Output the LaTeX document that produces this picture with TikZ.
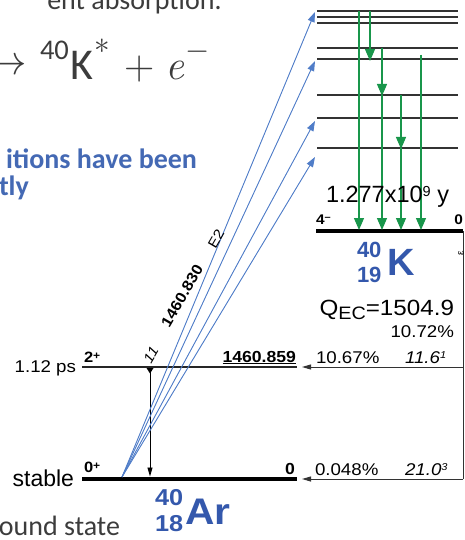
\documentclass[tikz,border=0pt]{standalone}
\usepackage{graphicx}
\usepackage{fontspec}
\newfontfamily\slidefont{Carlito}
\newfontfamily\hv{Liberation Sans}
\newfontfamily\hvw[FakeStretch=1.1]{Liberation Sans}
\usetikzlibrary{arrows.meta}
\definecolor{gammagreen}{RGB}{25,150,75}
\definecolor{absblue}{RGB}{80,125,200}
\definecolor{nucblue}{RGB}{52,88,172}
\definecolor{slideblue}{RGB}{68,105,180}
\definecolor{slidetext}{RGB}{60,60,60}
\newcommand\fsz[1]{\fontsize{#1}{#1}\selectfont}
\begin{document}
\begin{tikzpicture}[x=1pt,y=-1pt,
  txt/.style={inner sep=0pt, outer sep=0pt},
  lvl/.style={line width=1.5pt, draw=black!80},
  gnd/.style={line width=3.6pt, draw=black},
  garrow/.style={draw=gammagreen, line width=1.2pt, -{Triangle[width=10pt,length=12pt]}, fill=gammagreen},
  barrow/.style={draw=absblue, fill=absblue, line width=0.9pt, -{Triangle[width=7pt,length=10pt]}},
  karrow/.style={draw=black, line width=0.9pt, -{Triangle[width=5pt,length=9pt]}},
  ecline/.style={draw=black!80, line width=1pt},
  ecarrow/.style={draw=black!80, line width=1pt, -{Triangle[width=5pt,length=9pt]}},
]
\useasboundingbox (0,0) rectangle (465,540);
\clip (0,0) rectangle (465,540);

% ---------- slide text ----------
\node[txt, anchor=base east, text=slidetext] (title) at (222,10) {\slidefont\fsz{28}ent absorption:};
\node[txt, anchor=base east, text=slidetext] (eqarr) at (27,75) {\scalebox{2}{\fsz{21}$\to$}};
\node[txt, anchor=base west, text=slidetext] (eqA) at (40,60) {\slidefont\fsz{28.5}40};
\node[txt, anchor=base west, text=slidetext] (eqK) at (70,79.5) {\slidefont\fsz{44}K};
\node[txt, text=slidetext] (eqst) at (102,46) {\scalebox{1.5}{\fsz{20}$\ast$}};
\node[txt, anchor=base, text=slidetext] (eqplus) at (140,80) {\fsz{42}+};
\node[txt, anchor=base west, text=slidetext] (eqe) at (165,80) {\itshape\fsz{42}e};
\node[txt, text=slidetext] (eqm) at (198,52) {\scalebox{1.5}{\fsz{20}$-$}};
\node[txt, anchor=base east, text=slideblue] (bl1) at (197,168) {\slidefont\bfseries\fsz{28}itions have been};
\node[txt, anchor=base west, text=slideblue] (bl2) at (-1,195) {\slidefont\bfseries\fsz{28}tly};
\node[txt, anchor=base east, text=slidetext] (gs) at (120,535) {\slidefont\fsz{28}ound state};

% ---------- 40K levels ----------
\foreach \n/\yy in {a/11, b/17, c/23, d/48, e/59, f/95, g/118, h/148} {
  \coordinate (L\n) at (317,\yy);
  \coordinate (R\n) at (458,\yy);
  \draw[lvl] (L\n) -- (R\n);
}
\coordinate (kgL) at (316,231);
\coordinate (kgR) at (463,231);
\draw[gnd] (kgL) -- (kgR);

% ---------- 40Ar levels ----------
\coordinate (a2L) at (82,367);
\coordinate (a2R) at (297,367);
\draw[line width=1.3pt, draw=black!85] (a2L) -- (a2R);
\coordinate (a0L) at (82,478.5);
\coordinate (a0R) at (297,478.5);
\draw[line width=4pt, draw=black] (a0L) -- (a0R);

% ---------- EC branches ----------
\coordinate (ecB) at (463,479);
\coordinate (ec1R) at (463,367);
\coordinate (ec1L) at (302,367);
\coordinate (ec0L) at (302,479);
\draw[ecline] (kgR) -- (ecB);
\draw[ecarrow] (ec1R) -- (ec1L);
\draw[ecarrow] (ecB) -- (ec0L);

% ---------- gamma 2+ -> 0+ ----------
\coordinate (g0s) at (150,370);
\coordinate (g0e) at (150,476.5);
\draw[karrow] (g0s) -- (g0e);
\fill[black] (146.5,368) -- (153.5,368) -- (150,373.5) -- cycle;

% ---------- green gamma cascades ----------
\coordinate (gA1) at (359,11);  \coordinate (gA2) at (359,230);
\coordinate (gB1) at (370,11);  \coordinate (gB2) at (370,61);
\coordinate (gC1) at (382,48);  \coordinate (gC2) at (382,96);
\coordinate (gC3) at (382,95);  \coordinate (gC4) at (382,230);
\coordinate (gD1) at (401,95);  \coordinate (gD2) at (401,149);
\coordinate (gD3) at (401,148); \coordinate (gD4) at (401,230);
\coordinate (gE1) at (421,55);  \coordinate (gE2) at (421,230);
\draw[garrow] (gA1) -- (gA2);
\draw[garrow] (gB1) -- (gB2);
\draw[garrow] (gC1) -- (gC2);
\draw[garrow] (gC3) -- (gC4);
\draw[garrow] (gD1) -- (gD2);
\draw[garrow] (gD3) -- (gD4);
\draw[garrow] (gE1) -- (gE2);

% ---------- blue absorption arrows ----------
\coordinate (bs) at (122,477);
\coordinate (bt1) at (315,12);
\coordinate (bt2) at (315,61);
\coordinate (bt3) at (315,121);
\coordinate (bt4) at (315,157);
\draw[barrow] (bs) -- (bt1);
\draw[barrow] (bs) -- (bt2);
\draw[barrow] (bs) -- (bt3);
\draw[barrow] (bs) -- (bt4);

% ---------- diagram labels ----------
\node[txt, rotate=60] (glab) at (182,296) {\hvw\bfseries\fsz{15}1460.830};
\node[txt, rotate=60] (mult) at (216,239) {\hvw\fsz{14}E2};
\node[txt, rotate=60] (inten) at (151,355) {\hvw\itshape\fsz{14}11};

\node[txt, anchor=base east] (tps) at (76,372) {\hvw\fsz{17}1.12 ps};
\node[txt, anchor=base west] (sp2) at (84,362) {\hvw\bfseries\fsz{15}2\raisebox{3pt}{\fsz{11}+}};
\node[txt, anchor=base east] (e2) at (296,362) {\hvw\bfseries\fsz{16}\underline{1460.859}};
\node[txt, anchor=base east] (stab) at (74,486) {\hv\fsz{23}stable};
\node[txt, anchor=base west] (sp0) at (84,472) {\hvw\bfseries\fsz{15}0\raisebox{3pt}{\fsz{11}+}};
\node[txt, anchor=base east] (e0) at (295,474) {\hvw\bfseries\fsz{16}0};

\node[txt, anchor=base west] (b1) at (316,363) {\hvw\fsz{17}10.67\%};
\node[txt, anchor=base west] (lf1) at (405,363) {\hvw\itshape\fsz{17}11.6\raisebox{5pt}{\fsz{10}1}};
\node[txt, anchor=base west] (b0) at (315,475) {\hvw\fsz{17}0.048\%};
\node[txt, anchor=base west] (lf0) at (405,475) {\hvw\itshape\fsz{17}21.0\raisebox{5pt}{\fsz{10}3}};
\node[txt, anchor=base east] (qec) at (454,315) {\hvw\fsz{22}Q\raisebox{-4pt}{\fsz{18}EC}=1504.9};
\node[txt, anchor=base east] (btot) at (454,337) {\hvw\fsz{17}10.72\%};

\node[txt, anchor=base west] (half) at (326,202) {\hv\fsz{23.5}1.277x10\raisebox{6pt}{\fsz{14.5}9} y};
\node[txt, anchor=base west] (spk) at (316,224) {\hvw\bfseries\fsz{14}4\raisebox{4pt}{\fsz{10}\textendash}};
\node[txt, anchor=base east] (ek) at (463,224) {\hvw\bfseries\fsz{14}0};
\node[txt, rotate=90] (eps) at (461,253) {\hv\fsz{10}ε};

\node[txt, anchor=base west, text=nucblue] (kA) at (357,257) {\hv\bfseries\fsz{22}40};
\node[txt, anchor=base west, text=nucblue] (kZ) at (357,282) {\hv\bfseries\fsz{22}19};
\node[txt, anchor=base west, text=nucblue] (kS) at (387,275) {\hv\bfseries\fsz{38}K};
\node[txt, anchor=base west, text=nucblue] (arA) at (155,505) {\hvw\bfseries\fsz{23}40};
\node[txt, anchor=base west, text=nucblue] (arZ) at (155,531) {\hvw\bfseries\fsz{23}18};
\node[txt, anchor=base west, text=nucblue] (arS) at (185,524) {\hvw\bfseries\fsz{37}Ar};
\end{tikzpicture}
\end{document}
